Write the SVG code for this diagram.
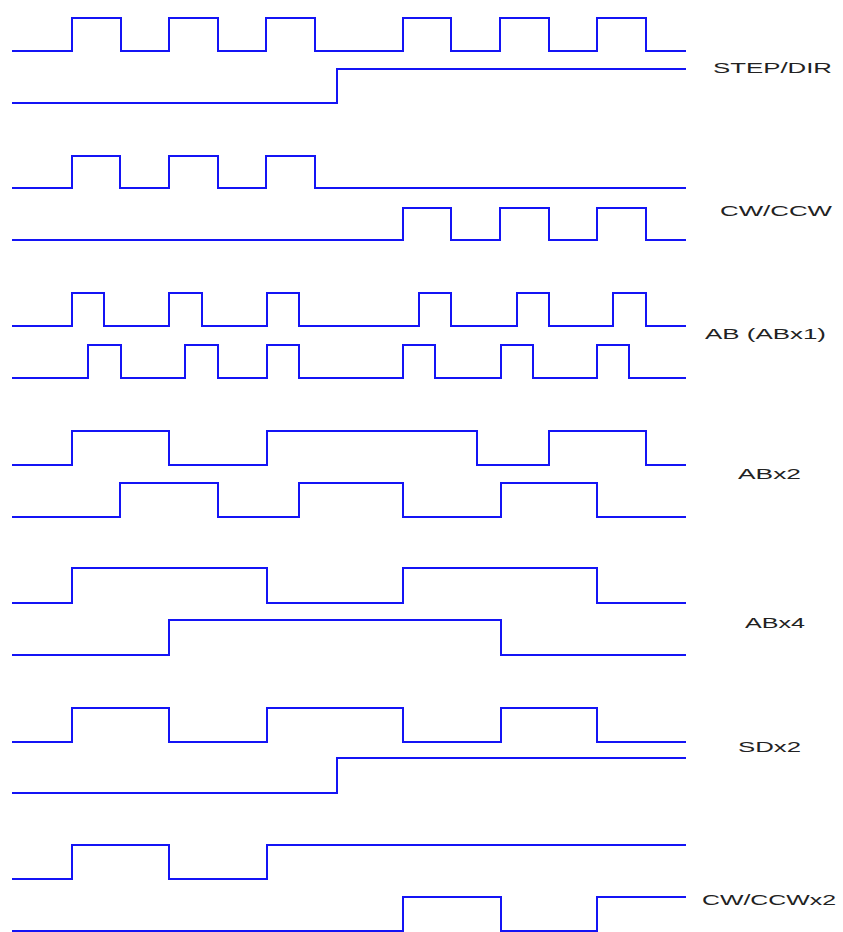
<svg xmlns="http://www.w3.org/2000/svg" width="843" height="932" viewBox="0 0 843 932">
<style>
.w{fill:none;stroke:#1414f5;stroke-width:2;stroke-linejoin:miter;stroke-linecap:butt}
.t{font-family:"Liberation Sans",Arial,sans-serif;font-size:14px;fill:#222;lengthAdjust:spacingAndGlyphs}
</style>
<rect width="843" height="932" fill="#fff"/>
<g id="step-dir">
<path class="w" d="M12,51 H72 V18 H121 V51 H169 V18 H218 V51 H266 V18 H315 V51 H403 V18 H451 V51 H500 V18 H549 V51 H597 V18 H646 V51 H686"/>
<path class="w" d="M12,103 H337 V69 H686"/>
<text class="t" x="713" y="73" textLength="119" lengthAdjust="spacingAndGlyphs">STEP/DIR</text>
</g>
<g id="cw-ccw">
<path class="w" d="M12,188 H72 V156 H120 V188 H169 V156 H218 V188 H266 V156 H315 V188 H686"/>
<path class="w" d="M12,240 H403 V208 H451 V240 H500 V208 H549 V240 H597 V208 H646 V240 H686"/>
<text class="t" x="720" y="216" textLength="112" lengthAdjust="spacingAndGlyphs">CW/CCW</text>
</g>
<g id="ab-x1">
<path class="w" d="M12,326 H72 V293 H104 V326 H169 V293 H202 V326 H267 V293 H299 V326 H419 V293 H451 V326 H517 V293 H549 V326 H613 V293 H646 V326 H686"/>
<path class="w" d="M12,378 H88 V345 H121 V378 H185 V345 H218 V378 H267 V345 H299 V378 H403 V345 H435 V378 H501 V345 H533 V378 H597 V345 H629 V378 H686"/>
<text class="t" x="705" y="339" textLength="121" lengthAdjust="spacingAndGlyphs">AB (ABx1)</text>
</g>
<g id="ab-x2">
<path class="w" d="M12,465 H72 V431 H169 V465 H267 V431 H477 V465 H549 V431 H646 V465 H686"/>
<path class="w" d="M12,517 H120 V483 H218 V517 H299 V483 H403 V517 H501 V483 H597 V517 H686"/>
<text class="t" x="738" y="479" textLength="63" lengthAdjust="spacingAndGlyphs">ABx2</text>
</g>
<g id="ab-x4">
<path class="w" d="M12,603 H72 V568 H267 V603 H403 V568 H597 V603 H686"/>
<path class="w" d="M12,655 H169 V620 H501 V655 H686"/>
<text class="t" x="745" y="628" textLength="60" lengthAdjust="spacingAndGlyphs">ABx4</text>
</g>
<g id="sd-x2">
<path class="w" d="M12,742 H72 V708 H169 V742 H267 V708 H403 V742 H501 V708 H597 V742 H686"/>
<path class="w" d="M12,793 H337 V758 H686"/>
<text class="t" x="738" y="752" textLength="63" lengthAdjust="spacingAndGlyphs">SDx2</text>
</g>
<g id="cw-ccw-x2">
<path class="w" d="M12,879 H72 V845 H169 V879 H267 V845 H686"/>
<path class="w" d="M12,931 H403 V897 H501 V931 H597 V897 H686"/>
<text class="t" x="702" y="905" textLength="134" lengthAdjust="spacingAndGlyphs">CW/CCWx2</text>
</g>
</svg>
